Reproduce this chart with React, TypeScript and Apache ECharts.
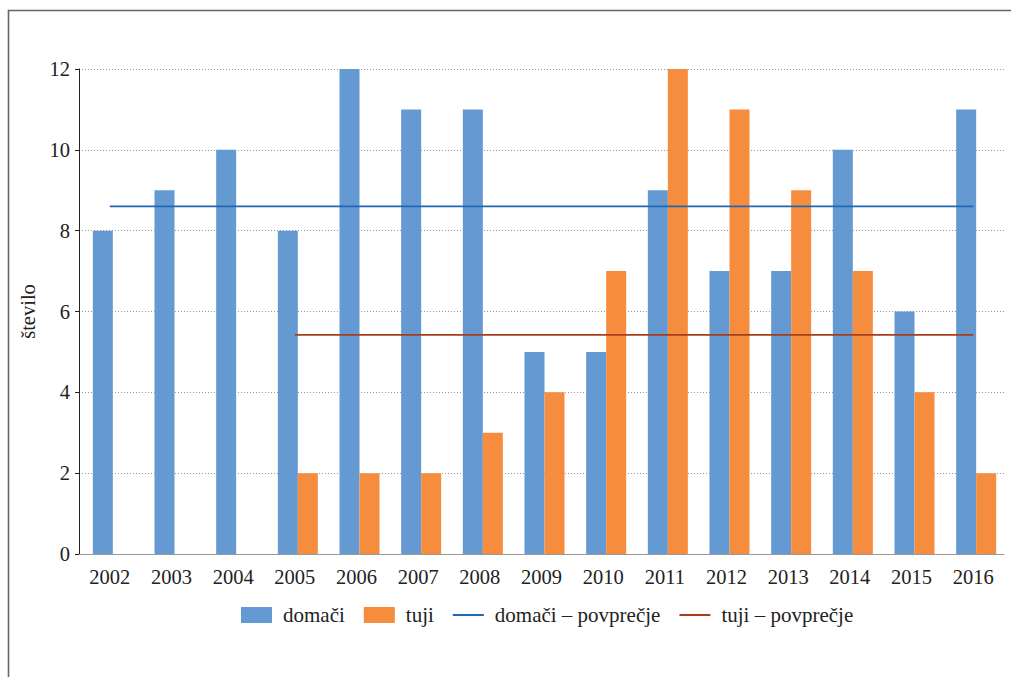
import React, { useEffect, useRef } from "react";
import * as echarts from "echarts";

const years = ["2002","2003","2004","2005","2006","2007","2008","2009","2010","2011","2012","2013","2014","2015","2016"];
const domaci = [8, 9, 10, 8, 12, 11, 11, 5, 5, 9, 7, 7, 10, 6, 11];
const tuji = [null, null, null, 2, 2, 2, 3, 4, 7, 12, 11, 9, 7, 4, 2];
const domaciAvg = [8.6, 8.6, 8.6, 8.6, 8.6, 8.6, 8.6, 8.6, 8.6, 8.6, 8.6, 8.6, 8.6, 8.6, 8.6];
const tujiAvg = [null, null, null, 5.42, 5.42, 5.42, 5.42, 5.42, 5.42, 5.42, 5.42, 5.42, 5.42, 5.42, 5.42];
const spacer = years.map(() => null);
const yTicks = { min: 0, max: 12, interval: 2 };

const FONT = "Liberation Serif";
const LINE_ICON = "path://M0,0 L30,0 L30,2 L0,2 Z";

export default function App() {
  const ref = useRef<HTMLDivElement>(null);
  useEffect(() => {
    const chart = echarts.init(ref.current!, null, { renderer: "svg" });
    chart.setOption({
      animation: false,
      textStyle: { fontFamily: FONT },
      graphic: [
        {
          type: "polyline",
          shape: { points: [[8.5, 677], [8.5, 10.5], [1011, 10.5]] },
          style: { stroke: "#666", lineWidth: 1.6, fill: null },
          silent: true,
        },
      ],
      grid: { left: 79, right: 7, top: 69, bottom: 123 },
      legend: {
        top: 599,
        left: 236,
        itemWidth: 31,
        itemHeight: 16,
        itemGap: 19,
        textStyle: { fontFamily: FONT, fontSize: 21, lineHeight: 22, color: "#222", padding: [0, 0, 0, 6] },
        data: [
          { name: "domači", icon: "rect" },
          { name: "tuji", icon: "rect" },
          { name: "domači – povprečje", icon: LINE_ICON },
          { name: "tuji – povprečje", icon: LINE_ICON },
        ],
      },
      xAxis: {
        type: "category",
        data: years,
        axisLine: { lineStyle: { color: "#999", width: 1 } },
        axisTick: { show: false },
        axisLabel: { fontFamily: FONT, fontSize: 20.5, color: "#222", margin: 12 },
      },
      yAxis: {
        type: "value",
        min: yTicks.min,
        max: yTicks.max,
        interval: yTicks.interval,
        name: "število",
        nameLocation: "middle",
        nameGap: 36,
        nameRotate: 90,
        nameTextStyle: { fontFamily: FONT, fontSize: 20.5, color: "#222" },
        axisLine: { show: true, lineStyle: { color: "#222", width: 1 } },
        axisTick: { show: true, length: 4, lineStyle: { color: "#222" } },
        axisLabel: { fontFamily: FONT, fontSize: 20.5, color: "#222", margin: 9 },
        splitLine: { lineStyle: { color: "#999", type: [1, 2], width: 1 } },
      },
      series: [
        {
          name: "_spacer",
          type: "bar",
          data: spacer,
          barWidth: 6,
          barGap: "0%",
          silent: true,
          itemStyle: { color: "transparent" },
        },
        {
          name: "domači",
          type: "bar",
          data: domaci,
          barWidth: 20,
          barGap: "0%",
          itemStyle: { color: "#6499D2" },
        },
        {
          name: "tuji",
          type: "bar",
          data: tuji,
          barWidth: 20,
          barGap: "0%",
          itemStyle: { color: "#F58C3E" },
        },
        {
          name: "domači – povprečje",
          type: "line",
          data: domaciAvg,
          symbol: "none",
          lineStyle: { color: "#2068B2", width: 1.8 },
          itemStyle: { color: "#2068B2" },
        },
        {
          name: "tuji – povprečje",
          type: "line",
          data: tujiAvg,
          symbol: "none",
          lineStyle: { color: "#A63E1B", width: 1.8 },
          itemStyle: { color: "#A63E1B" },
        },
      ],
    });
    return () => chart.dispose();
  }, []);
  return (
    <div
      ref={ref}
      style={{ position: "fixed", left: 0, top: 0, width: 1011, height: 677, background: "#fff" }}
    />
  );
}
